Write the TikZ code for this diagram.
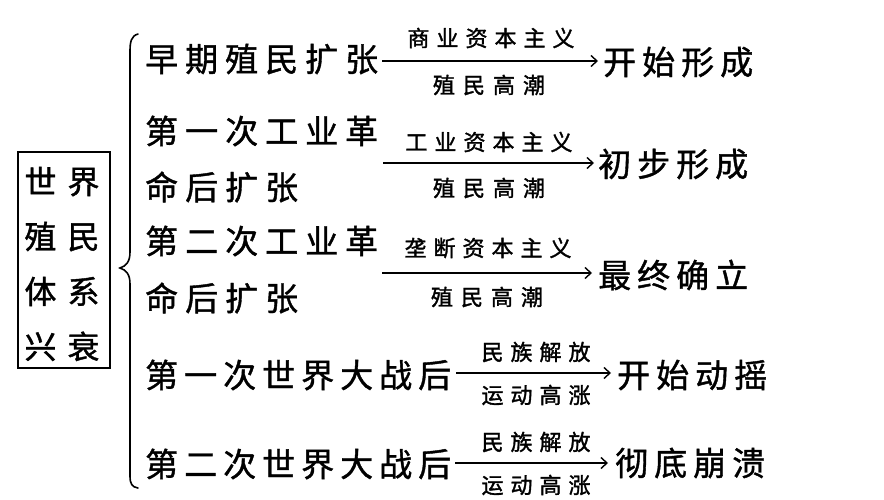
\documentclass[tikz,border=0pt]{standalone}
\usepackage{fontspec}
\usetikzlibrary{arrows.meta}
\newfontfamily\cjk[FakeBold=1.2]{Noto Sans CJK SC}
\newfontfamily\cjkl[FakeBold=1.5]{Noto Sans CJK SC}
\newdimen\lsp
\def\spc#1{#1\spl}
\def\spl#1{\ifx#1\relax\else\hskip\lsp#1\expandafter\spl\fi}
\newcommand\sptext[2]{\lsp=#1\relax\spc#2\relax}
\tikzset{
  big/.style={font=\cjk\fontsize{33}{33}\selectfont, inner sep=0pt},
  lbl/.style={font=\cjkl\fontsize{22}{22}\selectfont, inner sep=0pt},
  arr/.style={line width=1.4pt, -{Straight Barb[length=6pt,width=11pt,line width=1.4pt]}},
}
\begin{document}
\begin{tikzpicture}[x=1pt,y=-1pt]
\useasboundingbox (0,0) rectangle (884,500);
\fill[white] (0,0) rectangle (884,500);
% left box
\node[draw, line width=1.3pt, minimum width=92pt, minimum height=216pt, inner sep=0pt] (box) at (64,260) {};
\node[font=\cjk\fontsize{32}{55}\selectfont, align=center, inner sep=0pt] (boxtext) at (62,264)
 {\sptext{11pt}{世界}\\\sptext{11pt}{殖民}\\\sptext{11pt}{体系}\\\sptext{11pt}{兴衰}};
% brace
\draw[line width=1.6pt, line cap=round] (138,34) .. controls (131,36) and (130,42) .. (130,52)
  -- (130,252) .. controls (130,262) and (126,266) .. (120,268)
  .. controls (126,270) and (130,274) .. (130,284)
  -- (130,476) .. controls (130,484) and (132,487) .. (138,488);
% left texts
\node[big, anchor=west] (l1) at (145,59) {\sptext{7pt}{早期殖民扩张}};
\node[big, anchor=west] (l2a) at (145,131) {\sptext{7pt}{第一次工业革}};
\node[big, anchor=west] (l2b) at (145,187) {\sptext{7pt}{命后扩张}};
\node[big, anchor=west] (l3a) at (145,241) {\sptext{7pt}{第二次工业革}};
\node[big, anchor=west] (l3b) at (145,298) {\sptext{7pt}{命后扩张}};
\node[big, anchor=west] (l4) at (145,375) {\sptext{6pt}{第一次世界大战后}};
\node[big, anchor=west] (l5) at (145,464) {\sptext{6pt}{第二次世界大战后}};
% right texts
\node[big, anchor=west] (r1) at (603,62) {\sptext{6pt}{开始形成}};
\node[big, anchor=west] (r2) at (598,164) {\sptext{6pt}{初步形成}};
\node[big, anchor=west] (r3) at (598,275) {\sptext{6pt}{最终确立}};
\node[big, anchor=west] (r4) at (617,375) {\sptext{6pt}{开始动摇}};
\node[big, anchor=west] (r5) at (615,463) {\sptext{6pt}{彻底崩溃}};
% arrow labels
\node[lbl] (t1) at (491,38) {\sptext{7pt}{商业资本主义}};
\node[lbl] (b1) at (489,85) {\sptext{8pt}{殖民高潮}};
\node[lbl] (t2) at (489,142) {\sptext{7pt}{工业资本主义}};
\node[lbl] (b2) at (489,188) {\sptext{8pt}{殖民高潮}};
\node[lbl] (t3) at (488,248) {\sptext{7pt}{垄断资本主义}};
\node[lbl] (b3) at (487,297) {\sptext{8pt}{殖民高潮}};
\node[lbl] (t4) at (536,352) {\sptext{7pt}{民族解放}};
\node[lbl] (b4) at (536,395) {\sptext{7pt}{运动高涨}};
\node[lbl] (t5) at (536,442) {\sptext{7pt}{民族解放}};
\node[lbl] (b5) at (536,485) {\sptext{7pt}{运动高涨}};
% arrows
\coordinate (s1) at (382,61); \coordinate (e1) at (598,61);
\coordinate (s2) at (383,163); \coordinate (e2) at (594,163);
\coordinate (s3) at (382,273); \coordinate (e3) at (592,273);
\coordinate (s4) at (456,373); \coordinate (e4) at (611,373);
\coordinate (s5) at (455,463); \coordinate (e5) at (608,463);
\draw[arr] (s1) -- (e1);
\draw[arr] (s2) -- (e2);
\draw[arr] (s3) -- (e3);
\draw[arr] (s4) -- (e4);
\draw[arr] (s5) -- (e5);
\end{tikzpicture}
\end{document}
